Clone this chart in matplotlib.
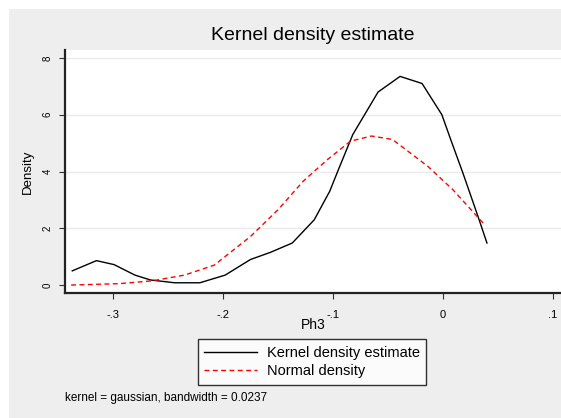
import matplotlib.pyplot as plt
from matplotlib.patches import Rectangle

plt.rcParams["font.family"] = ["Liberation Sans", "DejaVu Sans"]

# Densidad kernel estimada para Ph3
kde_x = [-0.337, -0.315, -0.299, -0.28, -0.266, -0.244, -0.221, -0.198, -0.175,
         -0.157, -0.137, -0.117, -0.103, -0.095, -0.082, -0.059, -0.039, -0.019,
         -0.001, 0.007, 0.018, 0.032, 0.04]
kde_y = [0.5, 0.86, 0.72, 0.35, 0.18, 0.08, 0.08, 0.35, 0.9,
         1.15, 1.48, 2.3, 3.3, 4.07, 5.3, 6.8, 7.35, 7.1,
         6.0, 5.13, 3.96, 2.4, 1.48]

# Densidad normal de referencia
norm_x = [-0.338, -0.294, -0.264, -0.235, -0.208, -0.175, -0.15, -0.127, -0.105,
          -0.084, -0.065, -0.046, -0.014, 0.009, 0.038]
norm_y = [0.0, 0.05, 0.15, 0.35, 0.7, 1.71, 2.65, 3.66, 4.42,
          5.07, 5.25, 5.13, 4.19, 3.36, 2.12]

x_ticks = [-0.3, -0.2, -0.1, 0, 0.1]
x_tick_labels = ["-.3", "-.2", "-.1", "0", ".1"]
y_ticks = [0, 2, 4, 6, 8]

fig = plt.figure(figsize=(5.61, 4.18), dpi=100)
fig.patch.set_facecolor("white")
# fondo gris estilo Stata
fig.patches.append(Rectangle((9 / 561, 0), 1, 1 - 9 / 418, transform=fig.transFigure,
                             facecolor="#eeeeee", edgecolor="none", zorder=-1))

ax = fig.add_axes([65 / 561, 1 - 293 / 418, 1 - 65 / 561, (293 - 50) / 418])
ax.set_facecolor("white")

ax.plot(kde_x, kde_y, color="black", linewidth=1.0, label="Kernel density estimate")
ax.plot(norm_x, norm_y, color="red", linewidth=1.0, linestyle=(0, (3.5, 2.5)),
        label="Normal density")

ax.set_xlim(-0.3436, 0.1073)
ax.set_ylim(-0.28, 8.28)

ax.set_xticks(x_ticks)
ax.set_xticklabels(x_tick_labels, fontsize=8)
ax.set_yticks(y_ticks)
ax.set_yticklabels([str(v) for v in y_ticks], fontsize=7, rotation=90, va="center")
ax.tick_params(axis="both", direction="out", length=4, width=0.8, color="#333333")
ax.tick_params(axis="x", pad=8)
ax.tick_params(axis="y", pad=5)

for v in y_ticks[1:]:
    ax.axhline(v, color="#eaeaea", linewidth=1.0, zorder=0)

for side in ["top", "right"]:
    ax.spines[side].set_visible(False)
for side in ["left", "bottom"]:
    ax.spines[side].set_linewidth(1.6)
    ax.spines[side].set_color("#222222")

ax.set_xlabel("Ph3", fontsize=10, labelpad=-1)
ax.set_ylabel("Density", fontsize=9.5, labelpad=6)

fig.text(313 / 561, 1 - 36 / 418, "Kernel density estimate", ha="center", va="center",
         fontsize=14)

leg = fig.legend(loc="center", bbox_to_anchor=(312 / 561, 1 - 362 / 418), ncol=1,
                 fontsize=10.5, frameon=True, fancybox=False, handlelength=3.6,
                 borderpad=0.45, labelspacing=0.3, handletextpad=0.7)
leg.get_frame().set_edgecolor("black")
leg.get_frame().set_linewidth(1.0)
leg.get_frame().set_facecolor("white")

fig.text(65 / 561, 1 - 398 / 418, "kernel = gaussian, bandwidth = 0.0237", ha="left",
         va="center", fontsize=8.5)

fig.savefig("out.png", dpi=100)
